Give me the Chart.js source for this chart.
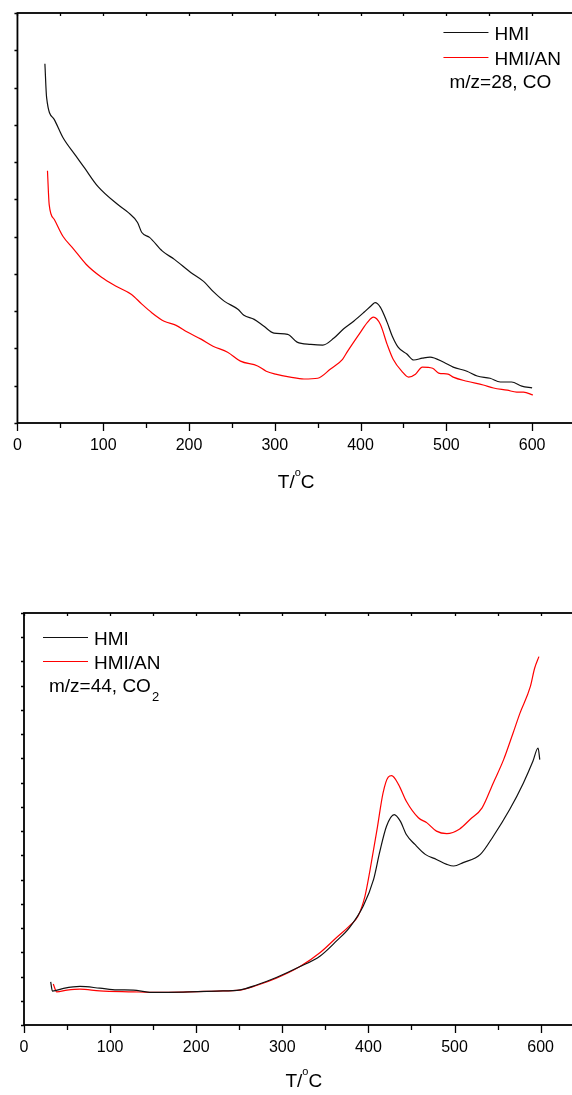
<!DOCTYPE html>
<html>
<head>
<meta charset="utf-8">
<script src="https://cdn.jsdelivr.net/npm/chart.js@4.4.0/dist/chart.umd.min.js"></script>
<style>
  html, body { margin: 0; padding: 0; background: #fff; overflow: hidden; }
  body { width: 572px; height: 1095px; position: relative; }
  .panel { position: absolute; left: 0; }
</style>
</head>
<body>
<div class="panel" style="top:0"><canvas id="coChart" width="600" height="500"></canvas></div>
<div class="panel" style="top:600px"><canvas id="co2Chart" width="610" height="495"></canvas></div>
<script>
// m/z=28 (CO) signal, arbitrary units
const coTempHMI = [32, 34, 43, 53, 67, 78, 94, 117, 129, 140, 145, 154, 169, 183, 202, 217, 229, 241, 257, 264, 276, 287, 299, 315, 326, 342, 356, 369, 380, 392, 404, 413, 417, 423, 431, 437, 444, 454, 462, 472, 481, 497, 508, 524, 536, 551, 563, 576, 588, 600];
const coHMI = [96.4, 87.3, 81.4, 76.6, 72.0, 68.5, 63.4, 58.6, 56.5, 53.8, 51.1, 49.8, 46.1, 43.9, 40.4, 38.0, 35.1, 32.7, 30.5, 28.9, 27.8, 26.0, 24.1, 23.8, 21.7, 21.1, 20.9, 22.8, 25.2, 27.3, 29.7, 31.6, 32.3, 31.1, 27.0, 23.3, 20.3, 18.5, 16.9, 17.4, 17.7, 16.3, 15.0, 13.9, 12.6, 12.0, 11.0, 11.0, 9.9, 9.4];
const coTempAN = [35, 37, 43, 53, 65, 80, 98, 115, 133, 145, 156, 171, 185, 198, 214, 228, 245, 260, 280, 290, 301, 318, 334, 350, 365, 379, 385, 400, 408, 415, 423, 431, 438, 448, 456, 464, 472, 484, 491, 502, 508, 524, 543, 555, 571, 582, 590, 601];
const coAN = [67.7, 58.6, 54.6, 50.1, 46.8, 42.6, 39.1, 36.7, 34.5, 31.9, 29.7, 27.3, 26.2, 24.4, 22.5, 20.6, 19.0, 16.6, 15.3, 13.9, 13.1, 12.3, 11.8, 12.0, 14.5, 17.1, 19.3, 24.4, 27.0, 28.4, 26.5, 21.1, 17.1, 13.9, 12.3, 13.1, 15.0, 14.7, 13.4, 13.1, 12.3, 11.2, 10.2, 9.4, 8.8, 8.3, 8.3, 7.5];

// m/z=44 (CO2) signal, arbitrary units
const co2TempHMI = [31, 33, 46, 65, 88, 108, 127, 146, 185, 224, 251, 270, 293, 320, 344, 363, 378, 394, 406, 413, 421, 430, 437, 444, 454, 466, 479, 491, 499, 510, 530, 545, 564, 580, 591, 597, 599];
const co2HMI = [17.8, 14.0, 15.1, 15.9, 15.2, 14.5, 14.4, 13.5, 13.6, 14.0, 14.5, 16.5, 19.6, 24.0, 28.5, 34.7, 40.2, 49.1, 60.1, 71.2, 82.0, 86.8, 84.1, 78.6, 74.5, 70.4, 68.3, 66.3, 65.6, 67.0, 70.4, 77.9, 88.9, 99.9, 108.8, 114.3, 109.5];
const co2TempAN = [34, 38, 50, 65, 88, 127, 146, 185, 224, 251, 270, 293, 320, 344, 363, 378, 388, 396, 402, 410, 417, 423, 427, 435, 444, 458, 468, 479, 491, 506, 518, 532, 545, 557, 568, 576, 588, 593, 598];
const co2AN = [16.9, 13.7, 14.4, 14.8, 14.1, 13.7, 13.5, 13.6, 14.0, 14.4, 16.3, 19.3, 24.0, 29.9, 36.1, 40.9, 45.0, 53.2, 64.2, 80.7, 95.8, 102.3, 102.9, 99.2, 92.3, 85.5, 83.4, 80.0, 79.0, 80.9, 84.8, 89.6, 99.9, 109.5, 120.5, 128.7, 139.6, 147.2, 152.0];

const seriesNames = ["HMI", "HMI/AN"];
const seriesColors = ["#111111", "#ff0000"];
const xTicks = [0, 100, 200, 300, 400, 500, 600];

Chart.defaults.font.family = '"Liberation Sans", Arial, sans-serif';
Chart.defaults.color = "#000";

const FONT = '"Liberation Sans", Arial, sans-serif';

function points(xs, ys) {
  return xs.map((t, i) => ({ x: t, y: ys[i] }));
}

// box, origin style ticks, legend, note and axis title
const frame = {
  id: "frame",
  afterDraw(chart, args, o) {
    const { ctx, chartArea: a } = chart;
    const x = chart.scales.x;
    const y = chart.scales.y;
    ctx.save();
    ctx.strokeStyle = "#000";
    ctx.fillStyle = "#000";

    ctx.lineWidth = 1.3;
    ctx.beginPath();
    for (let v = x.min; v <= x.max; v += 50) {
      const px = Math.round(x.getPixelForValue(v)) + 0.5;
      const len = v % 100 === 0 ? 8 : 5;
      ctx.moveTo(px, a.bottom);
      ctx.lineTo(px, a.bottom + len);
      ctx.moveTo(px, a.top);
      ctx.lineTo(px, a.top + 3);
    }
    for (let v = y.min; v <= y.max; v += o.yStep) {
      const py = Math.round(y.getPixelForValue(v)) + 0.5;
      ctx.moveTo(a.left, py);
      ctx.lineTo(a.left - 3, py);
    }
    ctx.stroke();

    ctx.lineWidth = 1.8;
    ctx.strokeRect(a.left, a.top, a.right - a.left, a.bottom - a.top);

    // legend
    ctx.font = "19px " + FONT;
    chart.data.datasets.forEach((ds, i) => {
      const lx = a.left + o.legendX;
      const ly = a.top + o.legendY + i * o.legendGap;
      ctx.strokeStyle = ds.borderColor;
      ctx.lineWidth = 1.2;
      ctx.beginPath();
      ctx.moveTo(lx, ly + 0.5);
      ctx.lineTo(lx + 45, ly + 0.5);
      ctx.stroke();
      ctx.fillText(ds.label, lx + 51, ly + 7.5);
    });

    // species note, with optional subscript
    const nx = a.left + o.noteX;
    const ny = a.top + o.noteY;
    ctx.fillText(o.note, nx, ny);
    if (o.noteSub) {
      const w = ctx.measureText(o.note).width;
      ctx.font = "13px " + FONT;
      ctx.fillText(o.noteSub, nx + w + 1, ny + 9);
    }

    // axis title T/°C with raised o
    const big = "19px " + FONT;
    const small = "11px " + FONT;
    ctx.font = big;
    const w1 = ctx.measureText("T/").width;
    const w3 = ctx.measureText("C").width;
    ctx.font = small;
    const w2 = ctx.measureText("o").width;
    const total = w1 + w2 + w3;
    let tx = (a.left + a.right) / 2 - total / 2;
    const ty = a.bottom + o.titleY;
    ctx.font = big;
    ctx.fillText("T/", tx, ty);
    tx += w1;
    ctx.font = small;
    ctx.fillText("o", tx, ty - 12.5);
    tx += w2;
    ctx.font = big;
    ctx.fillText("C", tx, ty);
    ctx.restore();
  }
};

function makeChart(id, sets, yMax, pad, deco) {
  const ctx = document.getElementById(id).getContext("2d");
  return new Chart(ctx, {
    type: "line",
    data: {
      datasets: sets.map((s, i) => ({
        label: seriesNames[i],
        data: points(s[0], s[1]),
        borderColor: seriesColors[i],
        borderWidth: 1.2,
        pointRadius: 0,
        cubicInterpolationMode: "monotone",
        fill: false
      }))
    },
    options: {
      responsive: false,
      animation: false,
      layout: { padding: pad },
      plugins: {
        legend: { display: false },
        tooltip: { enabled: false },
        frame: deco
      },
      scales: {
        x: {
          type: "linear",
          min: 0,
          max: 650,
          grid: { display: false, drawTicks: false },
          border: { display: false },
          afterBuildTicks: (scale) => {
            scale.ticks = xTicks.map((v) => ({ value: v }));
          },
          ticks: {
            padding: 13,
            font: { size: 16, lineHeight: 1.2 },
            color: "#000",
            maxRotation: 0,
            autoSkip: false
          }
        },
        y: {
          display: false,
          min: 0,
          max: yMax
        }
      }
    },
    plugins: [frame]
  });
}

makeChart(
  "coChart",
  [[coTempHMI, coHMI], [coTempAN, coAN]],
  110,
  { left: 16, top: 13, right: 25, bottom: 31.8 },
  { yStep: 10, legendX: 426, legendY: 19, legendGap: 25, note: "m/z=28, CO", noteX: 432, noteY: 75, titleY: 65 }
);

makeChart(
  "co2Chart",
  [[co2TempHMI, co2HMI], [co2TempAN, co2AN]],
  170,
  { left: 24, top: 13, right: 26.3, bottom: 24.8 },
  { yStep: 10, legendX: 19, legendY: 24, legendGap: 24, note: "m/z=44, CO", noteSub: "2", noteX: 25, noteY: 78.7, titleY: 62 }
);
</script>
</body>
</html>
